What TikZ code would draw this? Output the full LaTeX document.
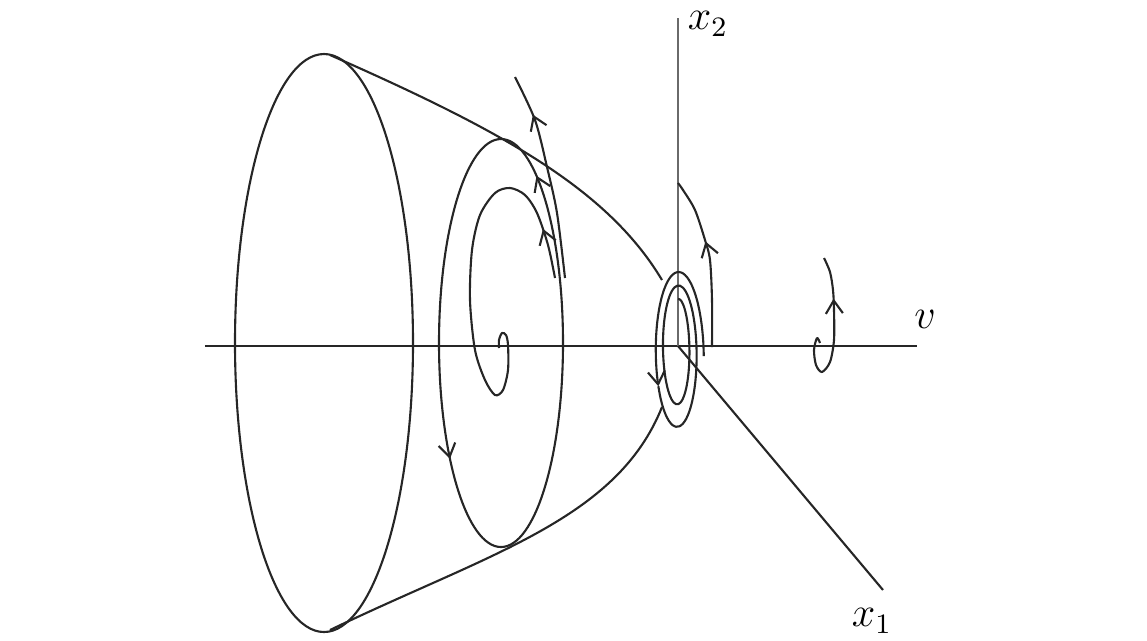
\documentclass[tikz,border=0pt]{standalone}
\usepackage{amsmath,amssymb}
\usepackage{tikz}
\usetikzlibrary{arrows.meta,decorations.markings}
\usepackage{xcolor}
\definecolor{PhaseInk}{HTML}{262626}
\definecolor{PhaseAxis}{HTML}{6A6A6A}
\tikzset{
  flowtip/.style={postaction={decorate,decoration={markings,
      mark=at position #1 with {\arrow{Straight Barb[length=1.3mm,width=1.7mm]}}}}},
  traj/.style={semithick,PhaseInk,line join=round}
}

\begin{document}
\begin{tikzpicture}[>={Straight Barb[length=1.3mm,width=1.7mm]},font=\large]
  \useasboundingbox (-6.78,-2.94) rectangle (4.69,3.46);
  % axes
  \draw[thick,PhaseInk] (-4.73,0)--(2.39,0);
  \draw[thick,PhaseAxis] (0,0)--(0,3.28);
  \draw[semithick,PhaseInk] (0,0)--(2.05,-2.44);
  \node (v) at (2.47,0.27) {$v$};
  \node (x2) at (0.30,3.22) {$x_2$};
  \node (x1) at (1.94,-2.75) {$x_1$};
  % cone
  \draw[traj] (-3.54,0.03) ellipse [x radius=0.89,y radius=2.89];
  \draw[traj] (-3.48,2.91) .. controls (-1.78,2.16) and (-0.71,1.58) .. (-0.16,0.66);
  \draw[traj] (-3.48,-2.84) .. controls (-1.88,-2.07) and (-0.61,-1.735) .. (-0.16,-0.61);
  \draw[traj,flowtip=0.19,flowtip=0.63] (-1.77,0.03) ellipse [x radius=0.62,y radius=2.04];
  % trajectories
  \draw[traj,flowtip=0.8] plot[smooth] coordinates {(-1.13,0.68) (-1.21,1.33)
    (-1.31,1.79) (-1.43,2.26) (-1.63,2.69)};
  \draw[traj,flowtip=0.12] plot[smooth] coordinates {(-1.23,0.68) (-1.30,1.01)
    (-1.41,1.33) (-1.53,1.51) (-1.68,1.58) (-1.83,1.53) (-1.98,1.31) (-2.06,0.96)
    (-2.08,0.46) (-2.03,-0.04) (-1.93,-0.34) (-1.83,-0.49) (-1.75,-0.44)
    (-1.70,-0.24) (-1.70,0.01) (-1.72,0.11) (-1.76,0.13) (-1.79,0.06) (-1.79,-0.02)};
  % spiral at the origin
  \draw[traj,->] plot[domain=-90:115,samples=22,smooth,variable=\s]
    ({(0.24-0.072*\s/360)*cos(\s+90)},{-0.09+0.045*\s/360+(0.83-0.18*\s/360)*sin(\s+90)});
  \draw[traj] plot[domain=115:720,samples=62,smooth,variable=\s]
    ({(0.24-0.072*\s/360)*cos(\s+90)},{-0.09+0.045*\s/360+(0.83-0.18*\s/360)*sin(\s+90)});
  \draw[traj,flowtip=0.62] plot[smooth] coordinates {(0.34,-0.01) (0.34,0.46)
    (0.32,0.86) (0.27,1.06) (0.17,1.36) (0.05,1.56) (0,1.63)};
  \draw[traj,flowtip=0.74] plot[smooth] coordinates {(1.42,0.03) (1.39,0.08)
    (1.36,-0.04) (1.38,-0.19) (1.44,-0.26) (1.52,-0.16) (1.56,0.06) (1.56,0.36)
    (1.55,0.56) (1.52,0.74) (1.46,0.88)};
\end{tikzpicture}
\end{document}
